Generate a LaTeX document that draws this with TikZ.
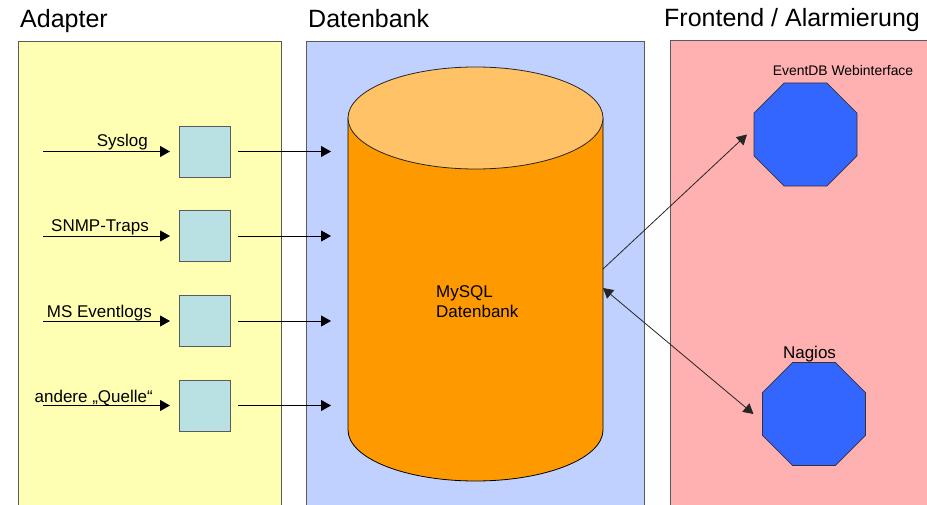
\documentclass[tikz,border=0pt]{standalone}
\usepackage{fontspec}
\setmainfont{Liberation Sans}
\usetikzlibrary{shapes.geometric,arrows.meta}
\definecolor{panelY}{RGB}{255,255,180}
\definecolor{panelB}{RGB}{192,208,255}
\definecolor{panelR}{RGB}{255,176,176}
\definecolor{cylBody}{RGB}{255,153,0}
\definecolor{cylTop}{RGB}{255,194,102}
\definecolor{sqFill}{RGB}{185,224,226}
\definecolor{octFill}{RGB}{51,102,255}
\definecolor{edgeGray}{RGB}{90,90,90}
\begin{document}
\begin{tikzpicture}[x=1pt,y=-1pt,
  panel/.style={draw=edgeGray,line width=0.9pt},
  header/.style={anchor=base west,inner sep=0pt,font=\fontsize{25}{30}\selectfont},
  lbl/.style={anchor=base east,inner sep=0pt,font=\fontsize{17}{20}\selectfont},
  adapter/.style={draw=edgeGray,fill=sqFill,line width=0.9pt,minimum size=51pt,inner sep=0pt,outer sep=0pt},
  octa/.style={regular polygon,regular polygon sides=8,draw=black!80,fill=octFill,line width=0.7pt,minimum size=111.5pt,inner sep=0pt,outer sep=0pt},
  arr/.style={draw=black,line width=0.9pt,-{Triangle[length=10pt,width=11pt]}},
  darr/.style={draw=black!85,line width=0.8pt,{Triangle[length=10pt,width=11pt]}-{Triangle[length=10pt,width=11pt]}},
  sarr/.style={draw=black!85,line width=0.8pt,-{Triangle[length=10pt,width=11pt]}}]
\clip (0,0) rectangle (927,505);
\fill[white] (0,0) rectangle (927,505);
% panels
\draw[panel,fill=panelY] (18,41) rectangle (281,520);
\draw[panel,fill=panelB] (306,41) rectangle (644,520);
\draw[panel,fill=panelR] (670,40) rectangle (940,520);
% headers
\node[header] (hA) at (20,28) {Adapter};
\node[header] (hD) at (308,28) {Datenbank};
\node[header] (hF) at (664,27) {Frontend / Alarmierung};
% database cylinder
\draw[draw=black,line width=0.8pt,fill=cylBody] (348,118) -- (348,430)
  arc[start angle=180,end angle=0,x radius=127.5,y radius=51] -- (603,118) -- cycle;
\draw[draw=black!85,line width=0.8pt,fill=cylTop] (475.5,118) ellipse[x radius=127.5,y radius=51];
\node[anchor=north west,inner sep=0pt,align=left,font=\fontsize{17}{20}\selectfont] (db) at (436,285.5) {MySQL\\Datenbank};
% adapters
\node[adapter] (sq1) at (204.5,151.5) {};
\node[adapter] (sq2) at (204.5,236) {};
\node[adapter] (sq3) at (204.5,321) {};
\node[adapter] (sq4) at (204.5,405.5) {};
\coordinate (in1) at (43,151.5);
\coordinate (in2) at (43,236);
\coordinate (in3) at (43,321);
\coordinate (in4) at (43,405.5);
\coordinate (db1) at (331,151.5);
\coordinate (db2) at (331,236);
\coordinate (db3) at (331,321);
\coordinate (db4) at (331,405.5);
\node[lbl] (l1) at (148,147) {Syslog};
\node[lbl] (l2) at (149,232) {SNMP-Traps};
\node[lbl] (l3) at (152,317) {MS Eventlogs};
\node[lbl] (l4) at (153,402) {andere „Quelle“};
\foreach \i in {1,2,3,4}{
  \draw[arr,shorten >=9pt] (in\i) -- (sq\i.west);
  \draw[arr,shorten <=8pt] (sq\i.east) -- (db\i);
}
% frontends
\node[octa] (web) at (805.5,134.5) {};
\node[octa] (nag) at (814,414) {};
\node[anchor=base,inner sep=0pt,font=\fontsize{13.9}{16}\selectfont] (lweb) at (843,76) {EventDB Webinterface};
\node[anchor=base,inner sep=0pt,font=\fontsize{17}{20}\selectfont] (lnag) at (809.5,359) {Nagios};
\coordinate (cylA) at (603,269);
\coordinate (cylB) at (603,288);
\draw[sarr] (cylA) -- ([xshift=-7pt]web.west);
\draw[darr] (cylB) -- ([xshift=-9pt]nag.west);
\end{tikzpicture}
\end{document}
